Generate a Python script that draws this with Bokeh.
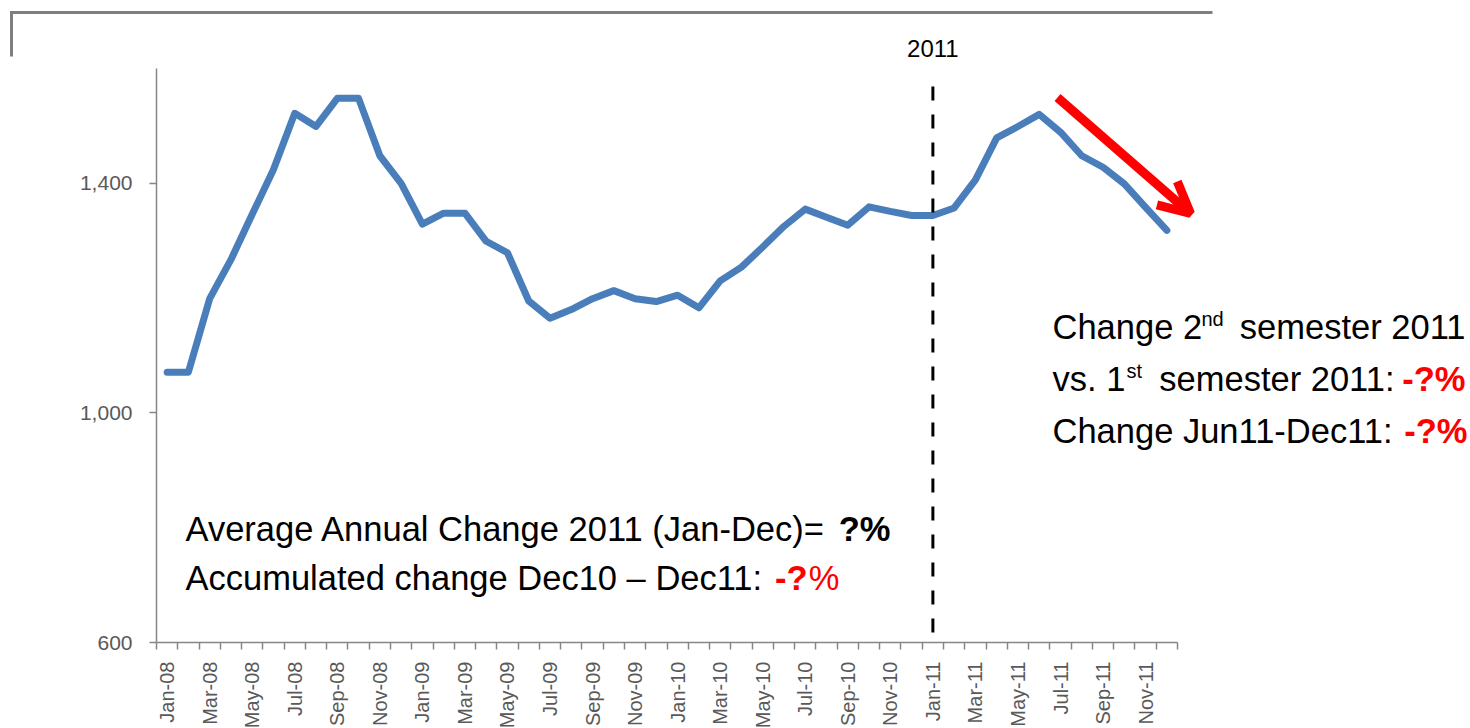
import math
from bokeh.plotting import figure
from bokeh.models import (Range1d, LinearAxis, FixedTicker, NumeralTickFormatter,
                          Label, Arrow, OpenHead, BoxAnnotation)
from bokeh.embed import file_html
from bokeh.resources import INLINE

# ---------------- data ----------------
months = ["Jan-08", "Feb-08", "Mar-08", "Apr-08", "May-08", "Jun-08", "Jul-08", "Aug-08",
          "Sep-08", "Oct-08", "Nov-08", "Dec-08",
          "Jan-09", "Feb-09", "Mar-09", "Apr-09", "May-09", "Jun-09", "Jul-09", "Aug-09",
          "Sep-09", "Oct-09", "Nov-09", "Dec-09",
          "Jan-10", "Feb-10", "Mar-10", "Apr-10", "May-10", "Jun-10", "Jul-10", "Aug-10",
          "Sep-10", "Oct-10", "Nov-10", "Dec-10",
          "Jan-11", "Feb-11", "Mar-11", "Apr-11", "May-11", "Jun-11", "Jul-11", "Aug-11",
          "Sep-11", "Oct-11", "Nov-11", "Dec-11"]
values = [1071, 1071, 1199, 1267, 1346, 1424, 1522, 1499, 1548, 1548, 1448, 1400,
          1329, 1348, 1348, 1299, 1279, 1195, 1165, 1180, 1199, 1213, 1199, 1194,
          1205, 1183, 1230, 1254, 1289, 1325, 1355, 1341, 1327, 1359, 1351, 1344,
          1344, 1357, 1406, 1479, 1499, 1520, 1489, 1448, 1428, 1399, 1358, 1318]
y_ticks = [600, 1000, 1400]
y_min, y_max = 600, 1600
marker_month = "Jan-11"
marker_label = "2011"

FONT = "Liberation Sans"
GRAY = "#868686"
LABEL_GRAY = "#595959"
RED = "#FF0000"

# ---------------- geometry (page pixels) ----------------
W, H = 1470, 728
PAGE_X0, PAGE_Y0 = 0, 0                 # canvas origin on the page
AX_LEFT, AX_RIGHT = 156, 1177           # x-axis extent on the page
AX_BOTTOM, AX_TOP = 642, 68             # y-axis extent on the page
n = len(months)
px_per_x = (AX_RIGHT - AX_LEFT) / n
px_per_y = (AX_BOTTOM - AX_TOP) / (y_max - y_min)
x0 = -0.5 - (AX_LEFT - PAGE_X0) / px_per_x
x1 = x0 + W / px_per_x
y0 = y_min - (PAGE_Y0 + H - AX_BOTTOM) / px_per_y
y1 = y0 + H / px_per_y

p = figure(width=W, height=H, x_range=Range1d(x0, x1), y_range=Range1d(y0, y1),
           output_backend="svg", toolbar_location=None,
           x_axis_type=None, y_axis_type=None,
           min_border=0, min_border_left=0, min_border_right=0,
           min_border_top=0, min_border_bottom=0)
p.outline_line_color = None
p.background_fill_color = "white"
p.border_fill_color = "white"

FL = PAGE_X0           # frame left on page
FB = PAGE_Y0 + H       # frame bottom on page

# y axis
ya = LinearAxis(ticker=FixedTicker(ticks=y_ticks),
                formatter=NumeralTickFormatter(format="0,0"),
                fixed_location=-0.5, bounds=(y_min, y_max))
ya.axis_line_color = GRAY
ya.axis_line_width = 1.5
ya.major_tick_line_color = GRAY
ya.major_tick_line_width = 1.5
ya.major_tick_in = 0
ya.major_tick_out = 7
ya.minor_tick_line_color = None
ya.major_label_text_font = FONT
ya.major_label_text_font_size = "21px"
ya.major_label_text_color = LABEL_GRAY
ya.major_label_standoff = 17
p.add_layout(ya, "left")

# x axis: labels on every other month, ticks between months
xa = LinearAxis(ticker=FixedTicker(ticks=list(range(0, n, 2)),
                                   minor_ticks=[i - 0.5 for i in range(n + 1)]),
                fixed_location=y_min, bounds=(-0.5, n - 0.5))
xa.major_label_overrides = {i: months[i] for i in range(0, n, 2)}
xa.major_label_orientation = math.pi / 2
xa.axis_line_color = GRAY
xa.axis_line_width = 1.5
xa.major_tick_line_color = None
xa.major_tick_in = 0
xa.major_tick_out = 0
xa.minor_tick_line_color = GRAY
xa.minor_tick_line_width = 1.5
xa.minor_tick_in = 0
xa.minor_tick_out = 7
xa.major_label_text_font = FONT
xa.major_label_text_font_size = "20px"
xa.major_label_text_color = LABEL_GRAY
xa.major_label_standoff = 12
p.add_layout(xa, "below")

# data line
xs = list(range(n))
p.line(xs, values, line_color="#4A7EBB", line_width=7, line_join="round", line_cap="round")

# 2011 marker
mi = months.index(marker_month)
p.segment(x0=[mi], y0=[y_min + (AX_BOTTOM - 632) / px_per_y], x1=[mi],
          y1=[y_min + (AX_BOTTOM - 83) / px_per_y],
          line_color="black", line_width=3, line_dash="14 14")

# red arrow
p.add_layout(Arrow(end=OpenHead(size=31, line_color=RED, line_width=9),
                   x_start=1057 - FL, y_start=FB - 97, x_end=1190 - FL, y_end=FB - 213,
                   start_units="screen", end_units="screen",
                   line_color=RED, line_width=9))

# slide border (top + left)
p.add_layout(BoxAnnotation(left=11 - FL, right=1212 - FL, top=FB - 10.5, bottom=FB - 13.5,
                           left_units="screen", right_units="screen",
                           top_units="screen", bottom_units="screen",
                           fill_color="#7F7F7F", fill_alpha=1, line_color=None))
p.add_layout(BoxAnnotation(left=9.5 - FL, right=12.5 - FL, top=FB - 10.5, bottom=FB - 56,
                           left_units="screen", right_units="screen",
                           top_units="screen", bottom_units="screen",
                           fill_color="#7F7F7F", fill_alpha=1, line_color=None))


def txt(text, px, py, size=34.5, color="black", bold=False, align="left"):
    # py is the wanted baseline on the page; compensate the renderer's baseline shift
    shift = 0.38 * size
    p.add_layout(Label(x=px - FL, y=FB - py + shift, x_units="screen", y_units="screen",
                       text=text, text_align=align, text_baseline="alphabetic",
                       text_font=FONT, text_font_size=f"{size}px", text_color=color,
                       text_font_style="bold" if bold else "normal"))


# year label over the dashed marker
txt(marker_label, AX_LEFT + (mi + 0.5) * px_per_x, 57, size=24, align="center")

# left annotation
txt("Average Annual Change 2011 (Jan-Dec)= ", 185, 542)
txt("?%", 890, 542, bold=True, align="right")
txt("Accumulated change Dec10 \u2013 Dec11: ", 185, 591)
txt("-?", 807, 591, color=RED, bold=True, align="right")
txt("%", 839, 591, color=RED, align="right")

# right annotation
txt("Change 2", 1052, 340)
txt("nd", 1201, 326, size=20)
txt("semester 2011", 1465, 340, align="right")
txt("vs. 1", 1052, 392)
txt("st", 1126, 378, size=20)
txt("semester 2011:", 1394, 392, align="right")
txt("-?%", 1465, 392, color=RED, bold=True, align="right")
txt("Change Jun11-Dec11:", 1052, 444)
txt("-?%", 1467, 444, color=RED, bold=True, align="right")

open("out.html", "w").write(file_html(p, INLINE))
